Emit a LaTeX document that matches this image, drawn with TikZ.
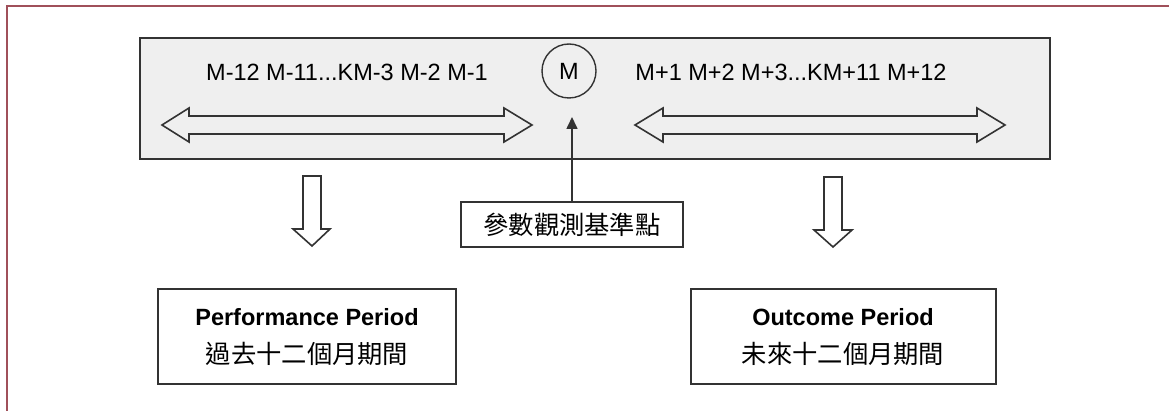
\documentclass[tikz,border=0pt]{standalone}
\usepackage{fontspec}
\setmainfont{Liberation Sans}
\newfontfamily\cjk{Noto Sans CJK TC}
\usetikzlibrary{arrows.meta}
\definecolor{framered}{HTML}{A0505A}
\definecolor{ink}{HTML}{333333}
\definecolor{panel}{HTML}{EFEFEF}
\tikzset{
  txt/.style={inner sep=0pt, text=black, font=\fontsize{23.5}{28}\selectfont},
  cjktxt/.style={inner sep=0pt, text=black, font=\cjk\fontsize{25.3}{28}\selectfont},
  boxed/.style={draw=ink, line width=1.6pt, fill=white, inner sep=0pt},
  hollow/.style={draw=ink, line width=1.6pt, fill=white, line join=miter},
  hollowgray/.style={draw=ink, line width=1.6pt, fill=panel, line join=miter},
}
\begin{document}
\begin{tikzpicture}[x=1pt,y=-1pt]
\useasboundingbox (0,0) rectangle (1169,411);
% outer frame (left and top only)
\draw[framered, line width=2pt] (6.5,411) -- (6.5,6.5) -- (1169,6.5);
% gray panel
\node[draw=ink, line width=1.6pt, fill=panel, minimum width=910pt, minimum height=121pt, inner sep=0pt] (panel) at (595,98.5) {};
% texts in panel
\node[txt] (lefttxt) at (347,72) {M-12 M-11...KM-3 M-2 M-1};
\node[txt] (righttxt) at (791,72) {M+1 M+2 M+3...KM+11 M+12};
\node[draw=ink, line width=1.4pt, circle, minimum size=54pt, inner sep=0pt, txt] (m) at (569,71) {M};
% double hollow arrows
\draw[hollowgray] (162,125) -- (189,108) -- (189,116) -- (504,116) -- (504,108) -- (532,125)
  -- (504,142) -- (504,134) -- (189,134) -- (189,142) -- cycle;
\draw[hollowgray] (635,125) -- (663,108) -- (663,116) -- (977,116) -- (977,108) -- (1005,125)
  -- (977,142) -- (977,134) -- (663,134) -- (663,142) -- cycle;
% label box and arrow
\node[boxed, minimum width=222pt, minimum height=45pt] (lbl) at (572,224.5) {};
\node[cjktxt] (lbltxt) at (lbl.center) {參數觀測基準點};
\coordinate (mtip) at (572,117);
\draw[ink, line width=1.6pt, -{Triangle[length=12pt,width=11pt]}] (lbl.north) -- (mtip);
% hollow down arrows
\draw[hollow] (303,176) -- (321,176) -- (321,229) -- (330,229) -- (312,246) -- (293,229) -- (303,229) -- cycle;
\draw[hollow] (824,177) -- (842,177) -- (842,230) -- (852,230) -- (833,247) -- (814,230) -- (824,230) -- cycle;
% bottom boxes
\node[boxed, minimum width=298pt, minimum height=95pt] (pbox) at (307,336.5) {};
\node[txt, font=\bfseries\fontsize{23.5}{28}\selectfont] (ptitle) at (307,317) {Performance Period};
\node[cjktxt] (psub) at (307,354) {過去十二個月期間};
\node[boxed, minimum width=305pt, minimum height=95pt] (obox) at (843.5,336.5) {};
\node[txt, font=\bfseries\fontsize{23.5}{28}\selectfont] (otitle) at (843,317) {Outcome Period};
\node[cjktxt] (osub) at (843,354) {未來十二個月期間};
\end{tikzpicture}
\end{document}
